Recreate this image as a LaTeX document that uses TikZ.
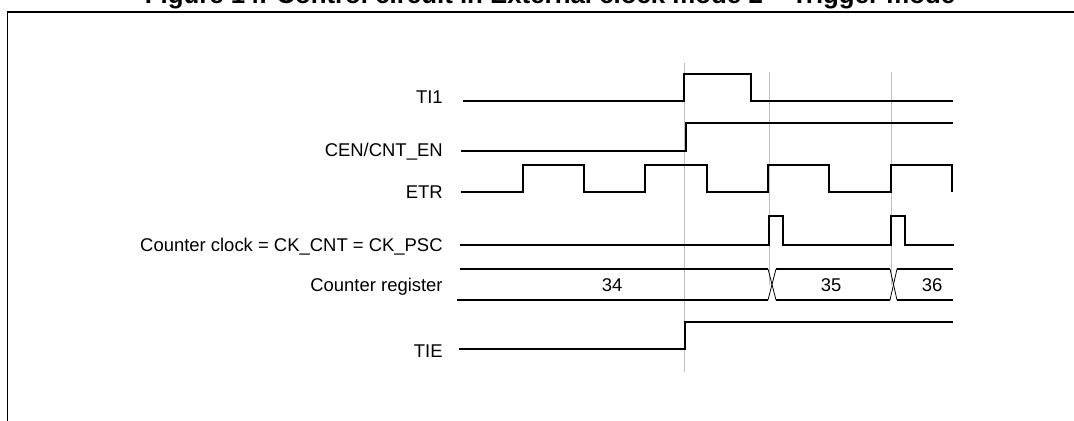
\documentclass[tikz,border=0pt]{standalone}
\usepackage{fontspec}
\setmainfont{Liberation Sans}
\usetikzlibrary{positioning}

\begin{document}
\begin{tikzpicture}[x=0.02cm, y=-0.02cm]

	% 样式
	\tikzset{
		wave/.style = {line width=0.85pt, line join=miter},
		guide/.style = {draw=black!25, line width=0.5pt},
		xcross/.style = {line width=0.45pt},
		signame/.style = {
			anchor=base east, inner sep=0pt,
			font=\fontsize{10.5}{12}\selectfont
		},
		busval/.style = {anchor=base, inner sep=0pt, font=\fontsize{10.5}{12}\selectfont}
	}

	% 参数
	\def \xt {443}
	\def \xe {953}

	\useasboundingbox (0,0) rectangle (1074,421);

	% 标题和边框
	\node[anchor=base, inner sep=0pt, font=\fontsize{14.7}{16}\selectfont\bfseries] (title)
		at (550,4) {Figure 14. Control circuit in External clock mode 2 -- Trigger mode};
	\draw[line width=1.1pt] (7.5,430) -- (7.5,12) -- (1080,12);

	% 灰色竖线
	\draw[guide] (684,63) -- (684,372);
	\foreach \x in {769,891}
		\draw[guide] (\x,72) -- (\x,285);

	% 信号名
	\node[signame] (ti1) at (\xt,104) {TI1};
	\node[signame] (cen) at (\xt,157) {CEN/CNT\_EN};
	\node[signame] (etr) at (\xt,199) {ETR};
	\node[signame] (ckcnt) at (\xt,252) {Counter clock = CK\_CNT = CK\_PSC};
	\node[signame] (cntreg) at (\xt,292) {Counter register};
	\node[signame] (tie) at (\xt,358) {TIE};

	% TI1
	\draw[wave] (463,101) -- (684,101) -- (684,74) -- (751,74) -- (751,101) -- (\xe,101);

	% CEN
	\draw[wave] (461,151) -- (686,151) -- (686,123) -- (\xe,123);

	% ETR
	\draw[wave] (461,192)
		\foreach \r/\f in {523/584, 645/707, 768/829, 891/952} {
			-- (\r,192) -- (\r,165) -- (\f,165) -- (\f,192)
		};

	% 计数时钟
	\draw[wave] (460,245)
		\foreach \r/\f in {769/783, 891/905} {
			-- (\r,245) -- (\r,216) -- (\f,216) -- (\f,245)
		} -- (954,245);

	% 计数寄存器
	\draw[wave] (460,269) -- (768,269) (776,269) -- (890,269) (897,269) -- (\xe,269);
	\draw[wave] (457,300) -- (768,300) (776,300) -- (890,300) (897,300) -- (\xe,300);
	\foreach \a/\b in {768/776, 890/897} {
		\draw[xcross] (\a,269) -- (\b,300);
		\draw[xcross] (\a,300) -- (\b,269);
	}
	\node[busval] (v34) at (612,292) {34};
	\node[busval] (v35) at (831,292) {35};
	\node[busval] (v36) at (932,292) {36};

	% TIE
	\draw[wave] (459,349) -- (685,349) -- (685,322) -- (\xe,322);

\end{tikzpicture}
\end{document}
